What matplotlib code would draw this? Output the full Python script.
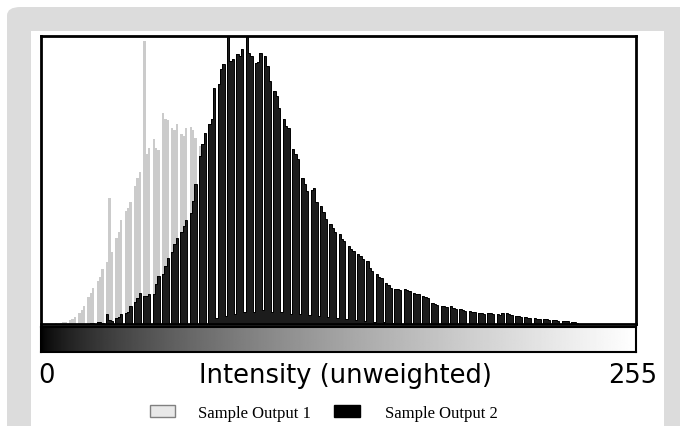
import numpy as np
import matplotlib
matplotlib.use('Agg')
import matplotlib.pyplot as plt
from matplotlib.colors import PowerNorm
from matplotlib.patches import FancyBboxPatch, Rectangle

# histogram counts per intensity level 0..255 (arbitrary units)
intensity = np.arange(256)
sample1 = ([0, 0, 0, 0, 0, 0, 1, 0, 1, 2, 2, 0, 4, 5, 7, 0,
            11, 14, 18, 0, 27, 31, 36, 0, 43, 47, 55, 0, 62, 126, 72, 0,
            86, 92, 104, 0, 113, 116, 122, 0, 138, 146, 152, 0, 283, 170, 176, 0,
            185, 176, 174, 0, 211, 205, 204, 0, 196, 194, 200, 0, 190, 188, 196, 0,
            197, 194, 186, 0, 178, 170, 160, 0, 140, 120, 100, 0, 80, 60, 40, 0]
           + [0] * 176)
sample2 = ([0] * 20
           + [0, 1, 1, 0, 2, 2, 1, 0, 10, 4, 3, 0, 6, 7, 10, 0,
              11, 12, 18, 0, 22, 26, 31, 0, 28, 28, 30, 0, 30, 40, 48, 0,
              50, 58, 66, 0, 72, 80, 86, 0, 92, 98, 104, 0, 111, 123, 140, 0,
              168, 180, 191, 0, 200, 205, 236, 6, 240, 255, 260, 8, 290, 263, 265, 10,
              270, 268, 275, 12, 290, 271, 268, 12, 261, 262, 271, 14, 268, 258, 243, 12,
              233, 228, 216, 12, 205, 198, 196, 10, 175, 170, 165, 10, 146, 140, 133, 9,
              134, 136, 122, 8, 118, 112, 105, 7, 100, 96, 92, 6, 90, 85, 83, 5,
              78, 75, 73, 4, 70, 68, 65, 3, 63, 56, 53, 2, 50, 47, 46, 2,
              41, 39, 36, 1, 35, 35, 34, 0, 35, 34, 33, 0, 31, 30, 30, 0,
              28, 27, 26, 0, 21, 20, 19, 0, 18, 18, 17, 0, 18, 16, 15, 0,
              15, 14, 13, 0, 13, 12, 12, 0, 11, 11, 10, 0, 11, 11, 10, 0,
              10, 9, 11, 0, 11, 10, 9, 0, 8, 8, 7, 0, 7, 6, 6, 0,
              6, 5, 5, 0, 5, 5, 4, 0, 4, 4, 3, 0, 3, 3, 3, 0, 2, 2, 1, 0]
           + [0] * 24)

W, H = 680, 427
fig = plt.figure(figsize=(6.8, 4.27), dpi=100, facecolor='white')

def fx(x):
    return x / W

def fy(y):
    return 1 - y / H

# grey frame and white panel (behind the axes)
fig.patches.append(FancyBboxPatch((fx(7), fy(460)), fx(700), fy(8) - fy(460),
                                  boxstyle='round,pad=0,rounding_size=0.02',
                                  transform=fig.transFigure, fc='#dcdcdc', ec='none', zorder=-10))
fig.patches.append(Rectangle((fx(31), 0), fx(664) - fx(31), fy(32),
                             transform=fig.transFigure, fc='white', ec='none', zorder=-9))

ax = fig.add_axes([fx(41), fy(325), fx(636) - fx(41), fy(37) - fy(325)])
ax.patch.set_alpha(0)
ax.bar(intensity, sample1, width=1, align='edge', color='#cbcbcb', linewidth=0)
ax.bar(intensity, sample2, width=1, align='edge', color='#1c1c1c', linewidth=0)
ax.stairs(sample2, np.arange(257), color='black', linewidth=0.7)
ax.set_xlim(0, 256)
ax.set_ylim(0, 288)
ax.set_xticks([])
ax.set_yticks([])
for s in ax.spines.values():
    s.set_linewidth(2)

# intensity gradient strip
cax = fig.add_axes([fx(41), fy(353), fx(636) - fx(41), fy(328) - fy(353)])
grad = np.linspace(0, 1, 512).reshape(1, -1)
cax.imshow(grad, aspect='auto', cmap='gray', norm=PowerNorm(gamma=0.65, vmin=0, vmax=1))
cax.set_xticks([])
cax.set_yticks([])
for s in cax.spines.values():
    s.set_linewidth(1.5)

fig.text(fx(38), fy(383), '0', fontsize=18.5, ha='left', va='baseline')
fig.text(fx(657), fy(383), '255', fontsize=18.5, ha='right', va='baseline')
fig.text(fx(345), fy(383), 'Intensity (unweighted)', fontsize=18.5, ha='center', va='baseline')

# legend
fig.patches.append(Rectangle((fx(150), fy(418)), fx(175) - fx(150), fy(406) - fy(418),
                             transform=fig.transFigure, fc='#e8e8e8', ec='#808080', lw=1))
fig.patches.append(Rectangle((fx(334), fy(418)), fx(360) - fx(334), fy(406) - fy(418),
                             transform=fig.transFigure, fc='black', ec='black', lw=1))
fig.text(fx(198), fy(418), 'Sample Output 1', fontsize=12, family='Liberation Serif', va='baseline')
fig.text(fx(385), fy(418), 'Sample Output 2', fontsize=12, family='Liberation Serif', va='baseline')

fig.savefig('out.png', dpi=100)
